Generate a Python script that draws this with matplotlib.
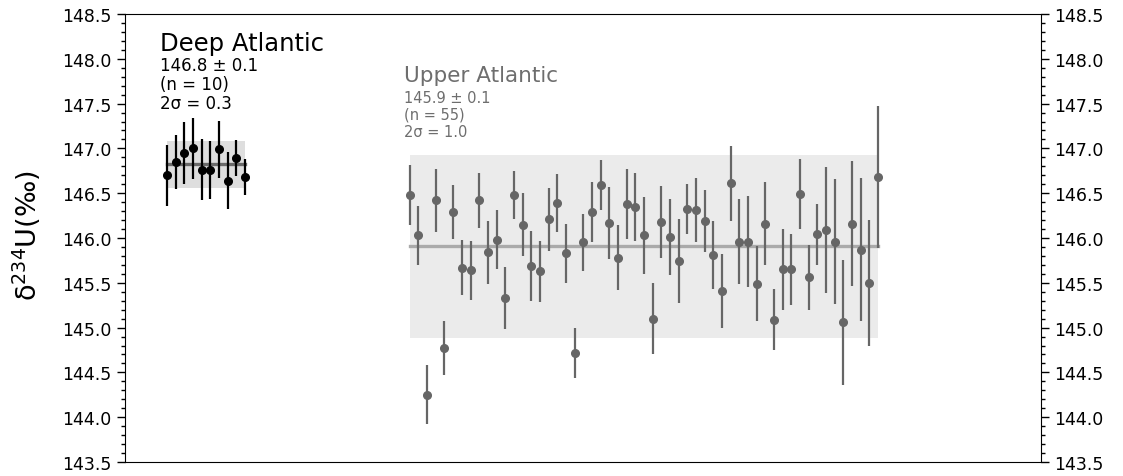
import numpy as np
import matplotlib
matplotlib.use("Agg")
import matplotlib.pyplot as plt
from matplotlib.ticker import MultipleLocator

# Deep Atlantic samples: delta-234U (permil) and 2-sigma uncertainties
deep_vals = [146.70, 146.85, 146.95, 147.00, 146.76, 146.76, 146.99, 146.64, 146.89, 146.68]
deep_errs = [0.34, 0.30, 0.35, 0.34, 0.34, 0.32, 0.32, 0.32, 0.20, 0.20]

# Upper Atlantic samples
upper_vals = [146.48, 146.03, 144.25, 146.42, 144.77, 146.29, 145.67, 145.64, 146.42, 145.84,
              145.98, 145.33, 146.48, 146.15, 145.69, 145.63, 146.21, 146.39, 145.83, 144.72,
              145.95, 146.29, 146.59, 146.17, 145.78, 146.38, 146.35, 146.03, 145.10, 146.18,
              146.01, 145.74, 146.32, 146.31, 146.19, 145.81, 145.41, 146.61, 145.96, 145.96,
              145.49, 146.16, 145.09, 145.65, 145.65, 146.49, 145.56, 146.04, 146.09, 145.96,
              145.06, 146.16, 145.87, 145.50, 146.68]
upper_errs = [0.34, 0.33, 0.33, 0.35, 0.30, 0.30, 0.31, 0.33, 0.31, 0.35,
              0.33, 0.35, 0.27, 0.35, 0.39, 0.34, 0.35, 0.32, 0.33, 0.28,
              0.32, 0.33, 0.28, 0.40, 0.36, 0.39, 0.38, 0.43, 0.40, 0.40,
              0.42, 0.47, 0.28, 0.36, 0.35, 0.38, 0.41, 0.42, 0.47, 0.51,
              0.42, 0.46, 0.34, 0.45, 0.40, 0.39, 0.36, 0.34, 0.70, 0.70,
              0.70, 0.70, 0.80, 0.70, 0.79]

deep_label = ["Deep Atlantic", "146.8 \u00b1 0.1", "(n = 10)", "2\u03c3 = 0.3"]
upper_label = ["Upper Atlantic", "145.9 \u00b1 0.1", "(n = 55)", "2\u03c3 = 1.0"]

y_ticks = [143.5, 144.0, 144.5, 145.0, 145.5, 146.0, 146.5, 147.0, 147.5, 148.0, 148.5]

deep_x = np.arange(len(deep_vals))
upper_x = np.arange(len(upper_vals)) + 28

fig = plt.figure(figsize=(11.23, 4.77), dpi=100)
ax = fig.add_axes([125 / 1123, 14 / 477, 916 / 1123, 448 / 477])

def group(ax, x, vals, errs, pt_color, band_color, mean_color):
    vals = np.asarray(vals)
    mean = vals.mean()
    two_sd = 2 * vals.std(ddof=1)
    ax.fill_between([x[0], x[-1]], mean - two_sd, mean + two_sd,
                    color=band_color, lw=0, zorder=1)
    ax.plot([x[0], x[-1]], [mean, mean], color=mean_color, lw=2.4, zorder=2)
    ax.errorbar(x, vals, yerr=errs, fmt="o", color=pt_color, ms=5.5,
                elinewidth=1.6, capsize=0, zorder=3)

group(ax, deep_x, deep_vals, deep_errs, "black", "#dedede", "#6a6a6a")
group(ax, upper_x, upper_vals, upper_errs, "#666666", "#ebebeb", "#aaaaaa")

ax.set_xlim(-4.85, 100.8)
ax.set_ylim(143.5, 148.5)
ax.set_xticks([])
ax.set_yticks(y_ticks)
ax.set_yticklabels([f"{t:.1f}" for t in y_ticks])
ax.yaxis.set_minor_locator(MultipleLocator(0.1))
ax.tick_params(axis="y", which="both", left=True, right=True,
               labelleft=True, labelright=True, labelsize=12.5)
ax.tick_params(axis="y", which="major", length=6, width=1)
ax.tick_params(axis="y", which="minor", length=3, width=1)

# group annotations
ax.text(-0.8, 148.10, deep_label[0], fontsize=17.5, color="black", va="baseline")
for i, s in enumerate(deep_label[1:]):
    ax.text(-0.8, 147.875 - i * 0.21, s, fontsize=12, color="black", va="baseline")

ax.text(27.3, 147.75, upper_label[0], fontsize=15.5, color="#6e6e6e", va="baseline")
for i, s in enumerate(upper_label[1:]):
    ax.text(27.3, 147.515 - i * 0.186, s, fontsize=10.5, color="#6e6e6e", va="baseline")

fig.text(27 / 1123, 1 - 236 / 477, "\u03b4$^{234}$U(\u2030)", rotation=90,
         ha="center", va="center", fontsize=19.5)

fig.savefig("out.png", dpi=100)
